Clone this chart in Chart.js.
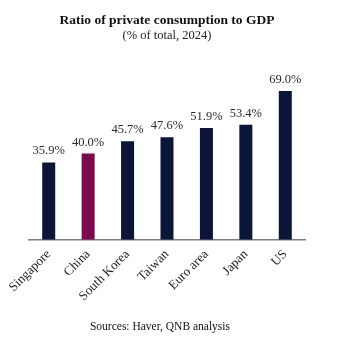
<!DOCTYPE html>
<html>
<head>
<meta charset="utf-8">
<script src="https://cdn.jsdelivr.net/npm/chart.js@4"></script>
<style>
    body { margin: 0; background: #fff; }
    #wrap { position: relative; width: 320px; height: 362px; }
    #source {
        position: absolute; left: 0; width: 320px; top: 320px;
        text-align: center; font: 11.5px 'Liberation Serif', serif; color: #111;
    }
</style>
</head>
<body>
<div id="wrap">
    <canvas id="chart" width="320" height="362"></canvas>
    <div id="source">Sources: Haver, QNB analysis</div>
</div>
<script>
const categories = ['Singapore', 'China', 'South Korea', 'Taiwan', 'Euro area', 'Japan', 'US'];
const consumptionShare = [35.9, 40.0, 45.7, 47.6, 51.9, 53.4, 69.0];
const barColors = ['#0b1538', '#7b0a4f', '#0b1538', '#0b1538', '#0b1538', '#0b1538', '#0b1538'];

const serif = "'Liberation Serif', 'Times New Roman', serif";

const valueLabels = {
    id: 'valueLabels',
    afterDatasetsDraw(chart) {
        const ctx = chart.ctx;
        const meta = chart.getDatasetMeta(0);
        ctx.save();
        ctx.font = `12.5px ${serif}`;
        ctx.fillStyle = '#2a2a2a';
        ctx.textAlign = 'center';
        ctx.textBaseline = 'bottom';
        meta.data.forEach((bar, i) => {
            ctx.fillText(consumptionShare[i].toFixed(1) + '%', bar.x, bar.y - 5);
        });
        ctx.restore();
    },
};

new Chart(document.querySelector('#chart'), {
    type: 'bar',
    data: {
        labels: categories,
        datasets: [{
            data: consumptionShare,
            backgroundColor: barColors,
            barPercentage: 0.33,
            categoryPercentage: 1,
        }],
    },
    options: {
        responsive: false,
        animation: false,
        layout: { padding: { left: 29, right: 15, bottom: 51 } },
        plugins: {
            legend: { display: false },
            tooltip: { enabled: false },
            title: {
                display: true,
                text: 'Ratio of private consumption to GDP',
                font: { family: serif, size: 13.5, weight: 'bold' },
                color: '#111',
                padding: { top: 12, bottom: 0 },
            },
            subtitle: {
                display: true,
                text: '(% of total, 2024)',
                font: { family: serif, size: 12.5 },
                color: '#222',
                padding: { top: 0, bottom: 22 },
            },
        },
        scales: {
            x: {
                grid: { display: false, drawTicks: false },
                border: { color: '#7f7f7f', width: 1.5 },
                ticks: {
                    color: '#222',
                    font: { family: serif, size: 13 },
                    minRotation: 45,
                    maxRotation: 45,
                    padding: 7,
                },
            },
            y: { display: false, min: 0, max: 81 },
        },
    },
    plugins: [valueLabels],
});
</script>
</body>
</html>
